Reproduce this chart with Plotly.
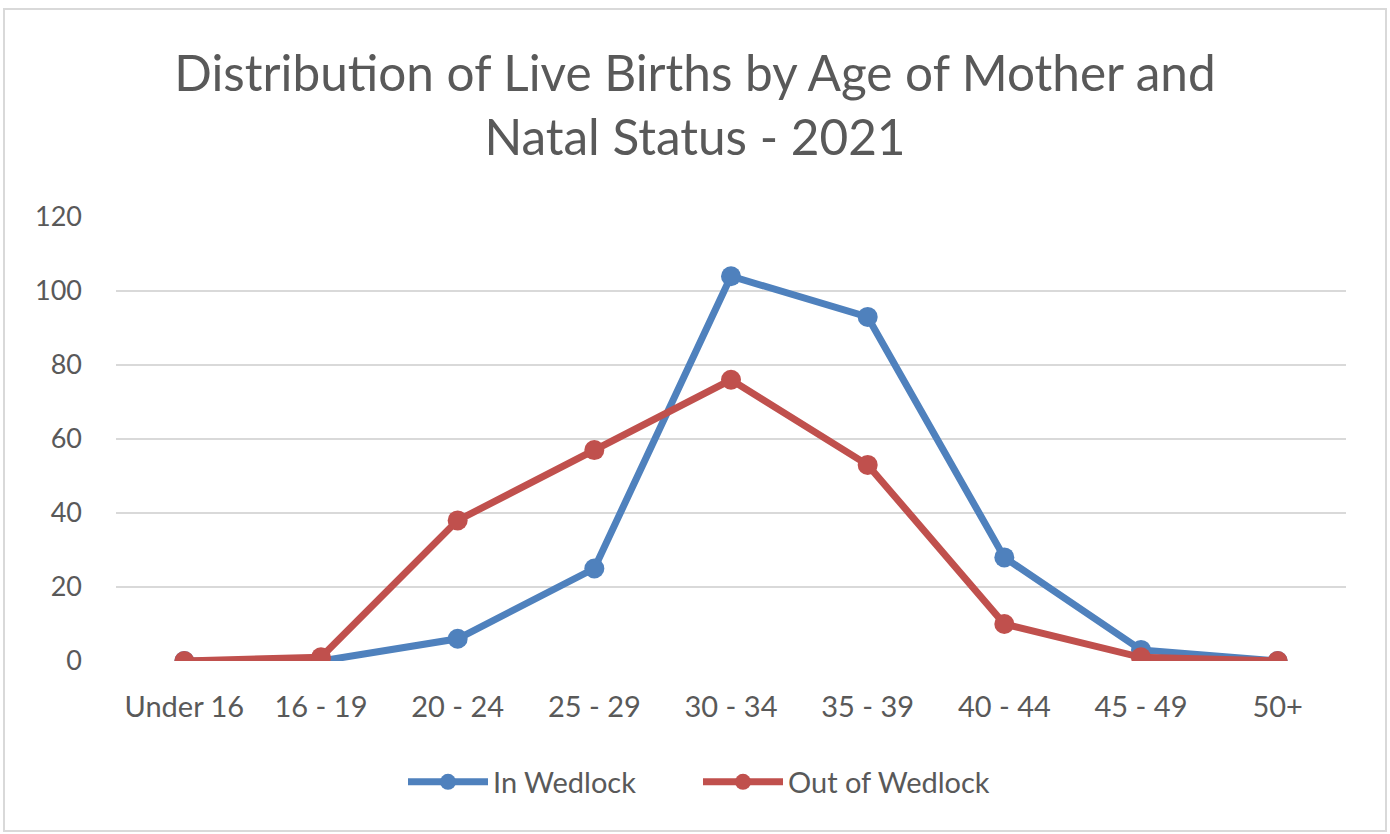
import plotly.graph_objects as go

categories = ["Under 16", "16 - 19", "20 - 24", "25 - 29", "30 - 34", "35 - 39", "40 - 44", "45 - 49", "50+"]
in_wedlock = [0, 0, 6, 25, 104, 93, 28, 3, 0]
out_of_wedlock = [0, 1, 38, 57, 76, 53, 10, 1, 0]
y_ticks = [0, 20, 40, 60, 80, 100, 120]

FONT = "Lato"
TXT = "#595959"

fig = go.Figure()
fig.add_trace(go.Scatter(
    x=categories, y=in_wedlock, name="In Wedlock", mode="lines+markers",
    line=dict(color="#4F81BD", width=7), marker=dict(size=20, color="#4F81BD"),
))
fig.add_trace(go.Scatter(
    x=categories, y=out_of_wedlock, name="Out of Wedlock", mode="lines+markers",
    line=dict(color="#C0504D", width=7), marker=dict(size=20, color="#C0504D"),
))

L, R, T, B = 116, 44, 217, 173
W, H = 1390, 834
pw, ph = W - L - R, H - T - B

def px(x):
    return (x - L) / pw

def py(y):
    return (H - B - y) / ph

fig.add_shape(type="rect", xref="paper", yref="paper",
              x0=px(4), x1=px(1386), y0=py(831), y1=py(9),
              line=dict(color="#D9D9D9", width=2), fillcolor="rgba(0,0,0,0)", layer="below")

fig.update_layout(
    width=W, height=H,
    margin=dict(l=L, r=R, t=T, b=B, autoexpand=False),
    paper_bgcolor="white", plot_bgcolor="white",
    title=dict(
        text="Distribution of Live Births by Age of Mother and<br>Natal Status - 2021",
        x=0.5, xref="container", xanchor="center",
        y=1 - 91 / H, yanchor="middle",
        font=dict(family=FONT, size=49.5, color=TXT),
    ),
    xaxis=dict(
        type="category", range=[-0.5, 8.5], showgrid=False, showline=False,
        ticks="", tickfont=dict(family=FONT, size=29, color=TXT), ticklabelstandoff=26,
        tickangle=0, fixedrange=True,
    ),
    yaxis=dict(
        range=[0, 120], tickvals=y_ticks, showgrid=True, gridcolor="#D9D9D9", gridwidth=2,
        zeroline=False, showline=False, ticks="",
        tickfont=dict(family=FONT, size=27, color=TXT), ticklabelstandoff=33,
    ),
    legend=dict(
        orientation="h", x=px(403), xanchor="left", xref="paper",
        y=py(782), yanchor="middle",
        font=dict(family=FONT, size=29, color=TXT),
        itemwidth=80, entrywidth=200, entrywidthmode="pixels",
    ),
    showlegend=True,
)

fig.write_html("out.html", config={"displayModeBar": False},
               post_script="document.body.style.margin='0';")
